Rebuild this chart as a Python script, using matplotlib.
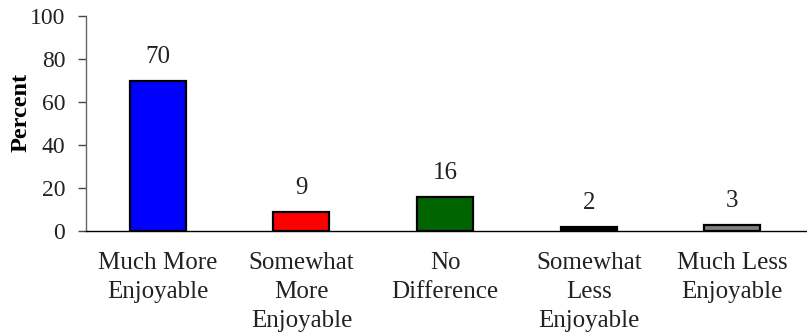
import matplotlib
matplotlib.use("Agg")
import matplotlib.pyplot as plt

categories = ["Much More\nEnjoyable", "Somewhat\nMore\nEnjoyable", "No\nDifference",
              "Somewhat\nLess\nEnjoyable", "Much Less\nEnjoyable"]
values = [70, 9, 16, 2, 3]
colors = ["#0000FF", "#FF0000", "#006400", "#000000", "#808080"]
yticks = [0, 20, 40, 60, 80, 100]

plt.rcParams['font.family'] = ['Liberation Serif', 'DejaVu Serif']

fig = plt.figure(figsize=(8.07, 3.35), dpi=100)
ax = fig.add_axes([86/807, 104/335, 1 - 86/807, 215/335])

x = list(range(len(values)))
bars = ax.bar(x, values, width=0.39, color=colors, edgecolor="black", linewidth=1.6)
for xi, v in zip(x, values):
    ax.annotate(str(v), (xi, v), xytext=(0, 9), textcoords="offset points",
                ha="center", va="bottom", fontsize=18, color="#222222")

ax.set_xlim(-0.5, 4.5 + 0.02)
ax.set_ylim(0, 100)
ax.set_yticks(yticks)
ax.set_xticks(x)
ax.set_xticklabels(categories, fontsize=18, color="#222222", linespacing=1.43)
ax.tick_params(axis="x", length=0, pad=15)
ax.tick_params(axis="y", length=6, width=1, color="#444444", labelsize=17,
               labelcolor="#222222", pad=9, direction="out")
for lbl in ax.get_xticklabels():
    lbl.set_verticalalignment("top")
ax.set_ylabel("Percent", fontsize=17.5, fontweight="bold")
ax.yaxis.set_label_coords(-0.075, 0.55)
ax.spines["top"].set_visible(False)
ax.spines["right"].set_visible(False)
ax.spines["left"].set_color("#666666")
ax.spines["bottom"].set_color("#000000")
ax.spines["left"].set_linewidth(1)
ax.spines["bottom"].set_linewidth(1)

fig.savefig("out.png", dpi=100)
